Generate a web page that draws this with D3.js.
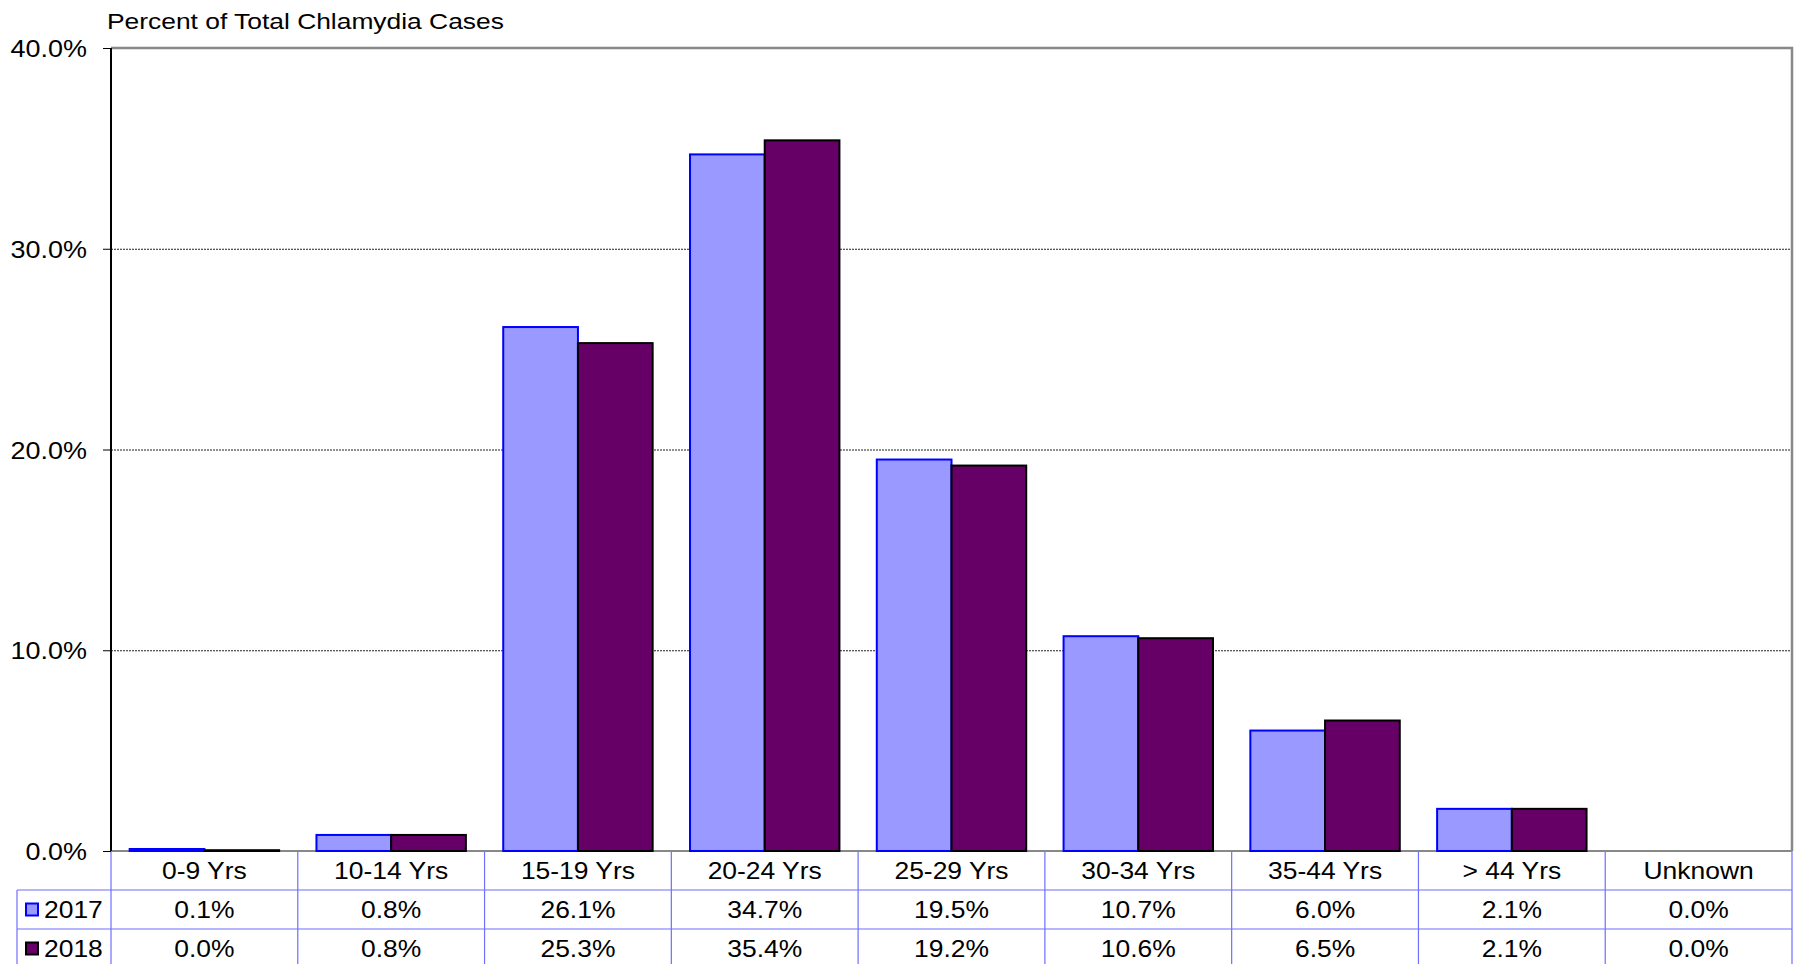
<!DOCTYPE html>
<html>
<head>
<meta charset="utf-8">
<script src="https://cdn.jsdelivr.net/npm/d3@7"></script>
<style>
  html, body { margin: 0; padding: 0; background: #fff; }
  svg { display: block; }
  text { font-family: "Liberation Sans", Arial, sans-serif; fill: #000; }
</style>
</head>
<body>
<svg id="chart" width="1796" height="964"></svg>
<script>
// ---- data ----
const categories = ["0-9 Yrs", "10-14 Yrs", "15-19 Yrs", "20-24 Yrs", "25-29 Yrs", "30-34 Yrs", "35-44 Yrs", "> 44 Yrs", "Unknown"];
const seriesNames = ["2017", "2018"];
const values2017 = [0.1, 0.8, 26.1, 34.7, 19.5, 10.7, 6.0, 2.1, 0.0];
const values2018 = [0.04, 0.8, 25.3, 35.4, 19.2, 10.6, 6.5, 2.1, 0.0];
const yTicks = [0, 10, 20, 30, 40];
const titleText = "Percent of Total Chlamydia Cases";

// ---- styles ----
const fills = { "2017": "#9999FF", "2018": "#660066" };
const strokes = { "2017": "#0000FF", "2018": "#000000" };
const tableLine = "#6E6EFF";

const svg = d3.select("#chart");
const pLeft = 111, pRight = 1792, pTop = 48, pBottom = 851;
const rowH = 39;

const x0 = d3.scaleBand().domain(categories).range([pLeft, pRight]).paddingInner(0).paddingOuter(0);
const x1 = d3.scaleBand().domain(seriesNames).range([0, x0.bandwidth()]).paddingInner(0).paddingOuter(0.25);
const y = d3.scaleLinear().domain([0, 40]).range([pBottom, pTop]);

const seriesData = { "2017": values2017, "2018": values2018 };

function stretch(sel, k) {
  sel.each(function() {
    const t = d3.select(this);
    const x = +t.attr("x") || 0, yy = +t.attr("y") || 0;
    t.attr("x", 0).attr("y", 0).attr("transform", `translate(${x},${yy}) scale(${k},1)`);
  });
}

// gridlines
svg.append("g").selectAll("line").data(yTicks.filter(d => d > 0 && d < 40)).join("line")
  .attr("x1", pLeft).attr("x2", pRight)
  .attr("y1", d => y(d) + 0.5).attr("y2", d => y(d) + 0.5)
  .attr("stroke", "#222").attr("stroke-width", 1).attr("stroke-dasharray", "2,1");

// table lines
const tl = svg.append("g").attr("stroke", tableLine).attr("stroke-width", 1.2).attr("fill", "none");
tl.append("line").attr("x1", pLeft).attr("x2", pRight).attr("y1", pBottom + 0.5).attr("y2", pBottom + 0.5);
[1, 2, 3].forEach(i => {
  tl.append("line").attr("x1", 17).attr("x2", pRight).attr("y1", pBottom + rowH * i).attr("y2", pBottom + rowH * i);
});
tl.append("line").attr("x1", 17).attr("x2", 17).attr("y1", pBottom + rowH).attr("y2", pBottom + rowH * 3);
categories.forEach(c => {
  tl.append("line").attr("x1", x0(c)).attr("x2", x0(c)).attr("y1", pBottom).attr("y2", pBottom + rowH * 3);
});
tl.append("line").attr("x1", pRight).attr("x2", pRight).attr("y1", pBottom).attr("y2", pBottom + rowH * 3);

// plot border (top, right) gray
svg.append("path")
  .attr("d", `M${pLeft},${pTop} H${pRight} V${pBottom}`)
  .attr("fill", "none").attr("stroke", "#888").attr("stroke-width", 2.5);

// x baseline (gray)
svg.append("line").attr("x1", pLeft).attr("x2", pRight).attr("y1", pBottom).attr("y2", pBottom)
  .attr("stroke", "#888").attr("stroke-width", 2);

// bars
seriesNames.forEach(s => {
  svg.append("g").selectAll("rect").data(categories.map((c, i) => ({ c, v: seriesData[s][i] })).filter(d => d.v > 0)).join("rect")
    .attr("x", d => x0(d.c) + x1(s))
    .attr("y", d => y(d.v))
    .attr("width", x1.bandwidth())
    .attr("height", d => y(0) - y(d.v))
    .attr("fill", fills[s])
    .attr("stroke", strokes[s])
    .attr("stroke-width", 2);
});

// y axis
const yAxis = svg.append("g").attr("transform", `translate(${pLeft},0)`)
  .call(d3.axisLeft(y).tickValues(yTicks).tickFormat(d => d.toFixed(1) + "%").tickSize(8).tickPadding(16));
yAxis.select(".domain").attr("stroke", "#000").attr("stroke-width", 2).attr("d", `M0,${pTop}V${pBottom}`);
yAxis.selectAll(".tick line").attr("stroke", "#000").attr("stroke-width", 1);
yAxis.selectAll(".tick text").attr("font-size", 24.5).attr("font-family", "Liberation Sans, Arial, sans-serif")
  .attr("fill", "#000").attr("dy", "0.35em");
stretch(yAxis.selectAll(".tick text"), 1.1);

// title
const title = svg.append("text").attr("x", 107).attr("y", 29).attr("font-size", 22).text(titleText);
stretch(title, 1.2);

// category labels
const cat = svg.append("g").selectAll("text").data(categories).join("text")
  .attr("x", d => x0(d) + x0.bandwidth() / 2)
  .attr("y", pBottom + rowH / 2 + 8)
  .attr("text-anchor", "middle").attr("font-size", 23).text(d => d);
stretch(cat, 1.15);

// data rows
seriesNames.forEach((s, si) => {
  const rowY = pBottom + rowH * (si + 1);
  const t = svg.append("g").selectAll("text").data(seriesData[s]).join("text")
    .attr("x", (d, i) => x0(categories[i]) + x0.bandwidth() / 2)
    .attr("y", rowY + rowH / 2 + 8)
    .attr("text-anchor", "middle").attr("font-size", 23).text(d => d.toFixed(1) + "%");
  stretch(t, 1.15);
  svg.append("rect").attr("x", 26).attr("y", rowY + rowH / 2 - 6).attr("width", 12).attr("height", 12)
    .attr("fill", fills[s]).attr("stroke", strokes[s]).attr("stroke-width", 2);
  const lt = svg.append("text").attr("x", 44).attr("y", rowY + rowH / 2 + 8).attr("font-size", 23).text(s);
  stretch(lt, 1.15);
});
</script>
</body>
</html>
